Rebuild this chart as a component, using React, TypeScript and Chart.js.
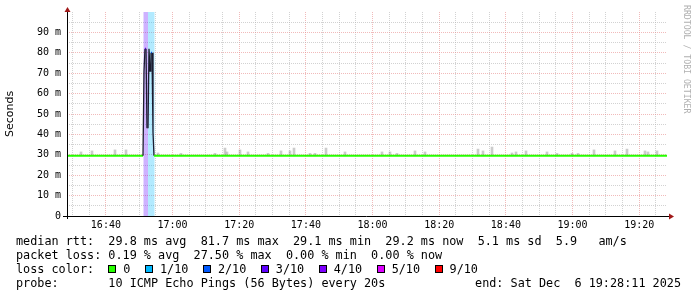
import React, { useEffect, useRef } from "react";
import { Chart, registerables } from "chart.js";

Chart.register(...registerables);

// ---------- data ----------
const START = "16:28:20";
const END = "19:28:20";
const BASE_RTT = 29.5;

const xLabelTimes = ["16:40", "17:00", "17:20", "17:40", "18:00", "18:20", "18:40", "19:00", "19:20"];
const yTickLabels = ["0", "10 m", "20 m", "30 m", "40 m", "50 m", "60 m", "70 m", "80 m", "90 m"];

const medianTimes = ["16:28:20", "16:51:08", "16:51:26", "16:51:44", "16:52:02", "16:52:20", "16:52:38", "16:52:56", "16:53:14", "16:53:32", "16:53:50", "16:54:08", "16:54:26", "19:28:20"];
const medianRtt = [29.5, 29.5, 71, 82, 82, 43, 43, 82, 71, 80, 80, 41, 29.5, 29.5];
const medianLoss = [0, 0, 3, 3, 3, 1, 1, 2, 2, 2, 2, 1, 0, 0];

const smokeTimes = ["16:32:32", "16:35:50", "16:42:44", "16:46:02", "16:55:38", "17:02:32", "17:12:44", "17:15:44", "17:16:20", "17:20:14", "17:22:38", "17:28:38", "17:32:32", "17:35:14", "17:36:26", "17:41:14", "17:42:44", "17:46:02", "17:51:44", "18:02:50", "18:05:14", "18:07:20", "18:12:44", "18:15:44", "18:31:38", "18:33:08", "18:35:50", "18:41:50", "18:43:02", "18:46:02", "18:52:20", "18:55:20", "18:59:50", "19:01:38", "19:06:26", "19:12:44", "19:16:20", "19:21:44", "19:22:38", "19:25:20"];
const smokeTops = [31.4, 31.9, 32.4, 32.4, 30.9, 30.7, 30.7, 33.3, 31.4, 32.4, 31.4, 30.7, 31.9, 31.9, 33.3, 30.7, 30.7, 33.3, 31.4, 31.4, 31.4, 30.7, 31.9, 31.4, 32.8, 31.9, 33.8, 30.9, 31.4, 31.9, 31.4, 30.7, 30.7, 30.7, 32.4, 31.9, 32.8, 31.9, 31.4, 31.9];

const lossBandStart = ["16:51:17", "16:52:38"];
const lossBandEnd = ["16:52:38", "16:54:35"];
const lossBandLevel = [3, 1];

const lossSteps = [0, 1, 2, 3, 4, 5, 9];
const lossLabels = ["0", "1/10", "2/10", "3/10", "4/10", "5/10", "9/10"];
const lossColors = ["#26ff00", "#00b8ff", "#0059ff", "#5e00ff", "#7e00ff", "#dd00ff", "#ff0000"];

const statLine1 = "median rtt:  29.8 ms avg  81.7 ms max  29.1 ms min  29.2 ms now  5.1 ms sd  5.9   am/s";
const statLine2 = "packet loss: 0.19 % avg  27.50 % max  0.00 % min  0.00 % now";
const legendPrefix = "loss color:  ";
const probeLine = "probe:       10 ICMP Echo Pings (56 Bytes) every 20s";
const endLine = "end: Sat Dec  6 19:28:11 2025";
const watermark = "RRDTOOL / TOBI OETIKER";
const yTitle = "Seconds";

// ---------- helpers ----------
function toMin(s: string): number {
  const p = s.split(":").map(Number);
  return p[0] * 60 + p[1] + (p[2] || 0) / 60;
}
function lossColorFor(loss: number): string {
  let idx = 0;
  for (let i = 0; i < lossSteps.length; i++) if (loss >= lossSteps[i]) idx = i;
  return lossColors[idx];
}
function hexA(hex: string, a: number): string {
  const r = parseInt(hex.slice(1, 3), 16), g = parseInt(hex.slice(3, 5), 16), b = parseInt(hex.slice(5, 7), 16);
  return `rgba(${r},${g},${b},${a})`;
}

const MONO = '"DejaVu Sans Mono", monospace';
const MAJOR = "rgba(232,140,140,0.6)";
const MINOR = "rgba(180,180,180,0.6)";

export default function App() {
  const ref = useRef<HTMLCanvasElement | null>(null);

  useEffect(() => {
    if (!ref.current) return;
    const xLabelMins = xLabelTimes.map(toMin);

    const decor = {
      id: "decor",
      beforeDatasetsDraw(chart: any) {
        const { ctx, chartArea, scales } = chart;
        ctx.save();
        for (let i = 0; i < lossBandStart.length; i++) {
          const x0 = scales.x.getPixelForValue(toMin(lossBandStart[i]));
          const x1 = scales.x.getPixelForValue(toMin(lossBandEnd[i]));
          ctx.fillStyle = hexA(lossColorFor(lossBandLevel[i]), 0.3);
          ctx.fillRect(x0, chartArea.top, x1 - x0, chartArea.bottom - chartArea.top);
        }
        ctx.restore();
      },
      afterDatasetsDraw(chart: any) {
        const { ctx, chartArea } = chart;
        const { left, right, top, bottom } = chartArea;
        ctx.save();
        ctx.strokeStyle = "#000";
        ctx.lineWidth = 1;
        ctx.beginPath();
        ctx.moveTo(left - 4, bottom + 0.5);
        ctx.lineTo(right + 3, bottom + 0.5);
        ctx.moveTo(left + 0.5, bottom + 3);
        ctx.lineTo(left + 0.5, top - 2);
        ctx.stroke();
        ctx.fillStyle = "#a01818";
        ctx.beginPath();
        ctx.moveTo(right + 7, bottom + 0.5);
        ctx.lineTo(right + 2, bottom - 2.5);
        ctx.lineTo(right + 2, bottom + 3.5);
        ctx.closePath();
        ctx.fill();
        ctx.beginPath();
        ctx.moveTo(left + 0.5, top - 5);
        ctx.lineTo(left - 2.5, top);
        ctx.lineTo(left + 3.5, top);
        ctx.closePath();
        ctx.fill();
        ctx.restore();
      },
    };

    const chart = new Chart(ref.current, {
      type: "line",
      data: {
        datasets: [
          {
            type: "bar",
            label: "smoke",
            data: smokeTimes.map((t, i) => ({ x: toMin(t), y: [BASE_RTT, smokeTops[i]] })) as any,
            backgroundColor: "rgba(120,120,120,0.38)",
            borderWidth: 0,
            barThickness: 2,
            grouped: false,
            order: 2,
          } as any,
          {
            type: "line",
            label: "median rtt",
            data: medianTimes.map((t, i) => ({ x: toMin(t), y: medianRtt[i] })),
            borderColor: lossColors[0],
            borderWidth: 2,
            pointRadius: 0,
            tension: 0,
            order: 1,
            segment: {
              borderColor: (c: any) => {
                if (Math.abs(c.p0.parsed.y - c.p1.parsed.y) > 3) return "#1c1c30";
                return lossColorFor(medianLoss[c.p0DataIndex]);
              },
              borderWidth: (c: any) => (Math.abs(c.p0.parsed.y - c.p1.parsed.y) > 3 ? 1.3 : 2),
            },
          } as any,
        ],
      },
      options: {
        responsive: false,
        animation: false,
        devicePixelRatio: 1,
        layout: { padding: { left: 0, right: 30, top: 12, bottom: 0 } },
        plugins: { legend: { display: false }, tooltip: { enabled: false }, title: { display: false } },
        scales: {
          x: {
            type: "linear",
            min: toMin(START),
            max: toMin(END),
            offset: false,
            afterFit: (s: any) => { s.height = 81; },
            afterBuildTicks: (s: any) => {
              const ticks = [];
              const first = Math.ceil(s.min / 5) * 5;
              for (let v = first; v <= s.max; v += 5) ticks.push({ value: v });
              s.ticks = ticks;
            },
            grid: {
              offset: false,
              drawTicks: false,
              lineWidth: 1,
              color: (c: any) => (c.tick && xLabelMins.indexOf(c.tick.value) >= 0 ? MAJOR : MINOR),
            },
            border: { display: false, dash: [1, 1] },
            ticks: {
              autoSkip: false,
              maxRotation: 0,
              padding: 3,
              color: "#000",
              font: { family: MONO, size: 10 },
              callback: (v: any) => {
                const i = xLabelMins.indexOf(Number(v));
                return i >= 0 ? xLabelTimes[i] : "";
              },
            },
          },
          y: {
            type: "linear",
            min: 0,
            max: 100,
            afterFit: (s: any) => { s.width = 67; },
            grid: {
              drawTicks: false,
              lineWidth: 1,
              color: (c: any) => {
                const v = c.tick ? c.tick.value : -1;
                if (v <= 0 || v >= 100) return "rgba(0,0,0,0)";
                return v % 10 === 0 ? MAJOR : MINOR;
              },
            },
            border: { display: false, dash: [1, 1] },
            ticks: {
              stepSize: 5,
              autoSkip: false,
              padding: 6,
              color: "#000",
              font: { family: MONO, size: 10 },
              callback: (v: any) => {
                const n = Number(v);
                return n % 10 === 0 && n < 100 ? yTickLabels[n / 10] : "";
              },
            },
            title: {
              display: true,
              text: yTitle,
              color: "#000",
              font: { family: '"DejaVu Sans", sans-serif', size: 11 },
              padding: { top: 4, bottom: 0 },
            },
          },
        },
      },
      plugins: [decor],
    } as any);

    return () => chart.destroy();
  }, []);

  const textStyle: React.CSSProperties = {
    position: "absolute",
    left: 16,
    fontFamily: MONO,
    fontSize: "11.8px",
    lineHeight: "14px",
    whiteSpace: "pre",
    color: "#000",
  };

  return (
    <div style={{ position: "absolute", left: 0, top: 0, width: 697, height: 297, background: "#fff", overflow: "hidden" }}>
      <canvas ref={ref} width={697} height={297} style={{ position: "absolute", left: 0, top: 0, width: 697, height: 297 }} />
      <div
        style={{
          position: "absolute",
          left: 683,
          top: 5,
          writingMode: "vertical-rl",
          fontFamily: MONO,
          fontSize: "8.2px",
          lineHeight: "8px",
          color: "#b0b0b0",
          whiteSpace: "pre",
        }}
      >
        {watermark}
      </div>
      <div style={{ ...textStyle, top: 234 }}>{statLine1}</div>
      <div style={{ ...textStyle, top: 248 }}>{statLine2}</div>
      <div style={{ ...textStyle, top: 262, display: "flex", alignItems: "center", height: 14 }}>
        <span>{legendPrefix}</span>
        {lossLabels.map((lab, i) => (
          <span key={lab} style={{ display: "inline-flex", alignItems: "center", marginRight: 14.5 }}>
            <span
              style={{
                display: "inline-block",
                width: 6,
                height: 6,
                border: "1px solid #000",
                background: lossColors[i],
                marginRight: 7,
              }}
            />
            <span>{lab}</span>
          </span>
        ))}
      </div>
      <div style={{ ...textStyle, top: 276 }}>{probeLine}</div>
      <div style={{ ...textStyle, left: undefined, right: 16, top: 276 }}>{endLine}</div>
    </div>
  );
}
